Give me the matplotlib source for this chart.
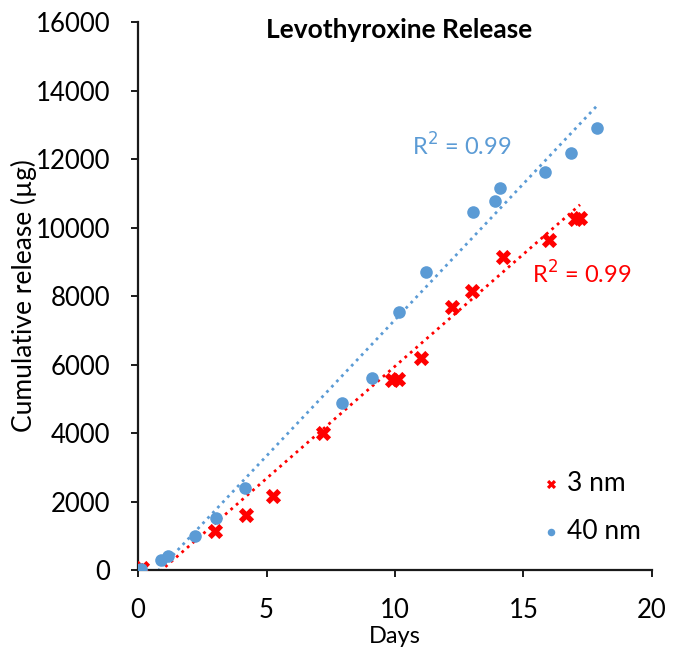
import matplotlib.pyplot as plt
import numpy as np

plt.rcParams['font.family'] = ['Lato', 'DejaVu Sans']

# 3 nm series (red crosses)
days_3nm = [0, 0.15, 3.0, 4.2, 5.25, 7.2, 9.9, 10.1, 11.0, 12.2, 13.0, 14.2, 16.0, 17.0, 17.2]
release_3nm = [0, 50, 1130, 1600, 2160, 4010, 5550, 5570, 6200, 7690, 8150, 9150, 9650, 10250, 10270]

# 40 nm series (blue circles)
days_40nm = [0, 0.1, 0.9, 1.15, 2.2, 3.05, 4.15, 7.95, 9.1, 10.15, 11.2, 13.05, 13.9, 14.1, 15.85, 16.85, 17.85]
release_40nm = [0, 20, 290, 400, 990, 1520, 2400, 4870, 5600, 7520, 8700, 10450, 10770, 11160, 11620, 12180, 12920]

# linear trendlines as shown in the chart (slope, intercept)
trend_3nm = [655, -600]
trend_40nm = [795, -643]

labels = ['3 nm', '40 nm']
r2_text = ['R$^2$ = 0.99', 'R$^2$ = 0.99']

red = '#FF0000'
blue = '#5B9BD5'

fig = plt.figure(figsize=(6.77, 6.57), dpi=100)
ax = fig.add_axes([0.204, 0.1324, 0.759, 0.834])

# dotted trendlines, from day 0 to last day (clipped at y=0 by the axes)
for xs, coef, col in [(days_3nm, trend_3nm, red), (days_40nm, trend_40nm, blue)]:
    xl = np.linspace(0, max(xs), 100)
    ax.plot(xl, np.polyval(coef, xl), linestyle=(0, (1, 1.6)), color=col, lw=2, zorder=1)

ax.scatter(days_3nm, release_3nm, marker='X', s=120, color=red, linewidths=0, zorder=3, label=labels[0])
ax.scatter(days_40nm, release_40nm, marker='o', s=82, color=blue, linewidths=0, zorder=3, label=labels[1])

ax.text(10.65, 12100, r2_text[1], color=blue, fontsize=17)
ax.text(15.35, 8350, r2_text[0], color=red, fontsize=17)

ax.set_xlim(0, 20)
ax.set_ylim(0, 16000)
ax.set_xticks([0, 5, 10, 15, 20])
ax.set_yticks(range(0, 16001, 2000))

for s in ['top', 'right']:
    ax.spines[s].set_visible(False)
for s in ['left', 'bottom']:
    ax.spines[s].set_linewidth(1.6)
    ax.spines[s].set_color('#1a1a1a')
ax.tick_params(axis='both', labelsize=18.5, width=1.4, color='#1a1a1a', length=5, direction='out')
ax.tick_params(axis='y', pad=15)
ax.tick_params(axis='x', pad=15)

ax.set_xlabel('Days', fontsize=17, labelpad=2)
ax.set_ylabel('Cumulative release (µg)', fontsize=19, labelpad=-1)
ax.set_title('Levothyroxine Release', fontsize=19, fontweight='bold', x=0.508, y=0.955)

leg = ax.legend(loc='lower right', bbox_to_anchor=(1.025, 0.005), frameon=False, fontsize=19,
                markerscale=0.6, handlelength=1.0, handletextpad=0.1, labelspacing=0.85)

fig.savefig('out.png', dpi=100)
